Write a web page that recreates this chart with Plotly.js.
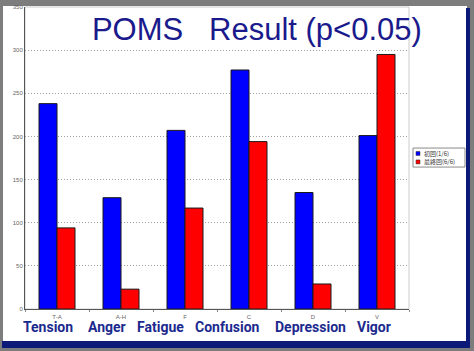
<!DOCTYPE html>
<html>
<head>
<meta charset="utf-8">
<script src="https://cdn.plot.ly/plotly-3.0.1.min.js"></script>
<style>
  html, body { margin:0; padding:0; width:474px; height:351px; overflow:hidden; background:#7d7d7d; }
  #sheet { position:absolute; left:3px; top:6px; width:464px; height:335px; background:#ffffff; }
  #navyR { position:absolute; left:466px; top:8px; width:4px; height:340px; background:#0b1a78; }
  #navyB { position:absolute; left:2px; top:341px; width:468px; height:7px; background:#0b1a78; }
  #chart { position:absolute; left:0; top:0; width:474px; height:351px; }
</style>
</head>
<body>
<div id="sheet"></div>
<div id="navyR"></div>
<div id="navyB"></div>
<div id="chart"></div>
<script>
// Data
const categories = ["Tension", "Anger", "Fatigue", "Confusion", "Depression", "Vigor"];
const tickLabels = ["T-A", "A-H", "F", "C", "D", "V"];
const seriesNames = ["初回(1/6)", "最終回(6/6)"];
const firstValues = [238, 129, 207, 277, 135, 201];
const lastValues  = [94, 23, 117, 194, 29, 295];
const yTicks = [0, 50, 100, 150, 200, 250, 300, 350];

const colors = ['#0000ff', '#ff0000'];

const traces = [
  { type:'bar', name:seriesNames[0], x:categories, y:firstValues,
    marker:{ color:colors[0], line:{ color:'#1a1a1a', width:1 } } },
  { type:'bar', name:seriesNames[1], x:categories, y:lastValues,
    marker:{ color:colors[1], line:{ color:'#1a1a1a', width:1 } } }
];

// layout-only horizontal offsets of the slide's category names (px)
const nameShift = [-9, -14, -25, -22, -3, -3];
const nameAnnotations = categories.map((c, i) => ({
  x:c, xref:'x', y:-0.06, yref:'paper', yanchor:'middle', xanchor:'center', xshift:nameShift[i],
  text:'<b>' + c + '</b>', showarrow:false,
  font:{ family:'Roboto, "Liberation Sans", sans-serif', size:14, color:'#1c2a8e' }
}));

// custom compact legend (box, swatches, labels)
const legendRows = [0.515, 0.487];
const legendShapes = [
  { type:'rect', xref:'paper', yref:'paper', x0:1.0104, x1:1.1458, y0:0.470, y1:0.533,
    line:{ color:'#8a8a8a', width:1 }, fillcolor:'#ffffff', layer:'above' }
].concat(seriesNames.map((n, i) => ({
  type:'rect', xref:'paper', yref:'paper', x0:1.0182, x1:1.0286,
  y0:legendRows[i] - 0.0066, y1:legendRows[i] + 0.0066,
  line:{ color:'#333333', width:0.5 }, fillcolor:colors[i], layer:'above' })));
const legendTexts = seriesNames.map((n, i) => ({
  x:1.033, xref:'paper', y:legendRows[i], yref:'paper', xanchor:'left', yanchor:'middle',
  text:n, showarrow:false,
  font:{ family:'"Noto Sans CJK JP", sans-serif', size:6, color:'#333333' }
}));

const layout = {
  width:474, height:351,
  margin:{ l:25, r:65, t:7, b:42, pad:0 },
  paper_bgcolor:'rgba(0,0,0,0)',
  plot_bgcolor:'#ffffff',
  showlegend:false,
  barmode:'group', bargap:0.4375, bargroupgap:0,
  title:{ text:'POMS\u00a0\u00a0\u00a0Result (p&lt;0.05)', x:0.542, xanchor:'center', xref:'container',
          y:0.917, yanchor:'middle', yref:'container',
          font:{ family:'"Liberation Sans", Arial, sans-serif', size:31, color:'#1a1a8c' } },
  xaxis:{ type:'category', tickvals:categories, ticktext:tickLabels, range:[-0.5, 5.5],
          showline:true, linecolor:'#555555', linewidth:1,
          ticks:'outside', tickson:'boundaries', ticklen:2, tickcolor:'#888888',
          ticklabelstandoff:2,
          tickfont:{ family:'"Liberation Sans", Arial, sans-serif', size:6, color:'#666666' },
          showgrid:false, zeroline:false, fixedrange:true },
  yaxis:{ range:[0, 350], tickvals:yTicks, ticktext:yTicks.map(String),
          showline:true, linecolor:'#555555', linewidth:1,
          ticks:'', showgrid:true, gridcolor:'#a0a0a0', gridwidth:1, griddash:'1px,2px',
          tickfont:{ family:'"Liberation Sans", Arial, sans-serif', size:6, color:'#666666' },
          zeroline:false, fixedrange:true },
  shapes:[ { type:'rect', xref:'paper', yref:'paper', x0:0, x1:1, y0:0, y1:1,
             line:{ color:'#cccccc', width:1 }, layer:'below' } ].concat(legendShapes),
  annotations:nameAnnotations.concat(legendTexts)
};

Plotly.newPlot('chart', traces, layout, { displayModeBar:false, staticPlot:true });
</script>
</body>
</html>
